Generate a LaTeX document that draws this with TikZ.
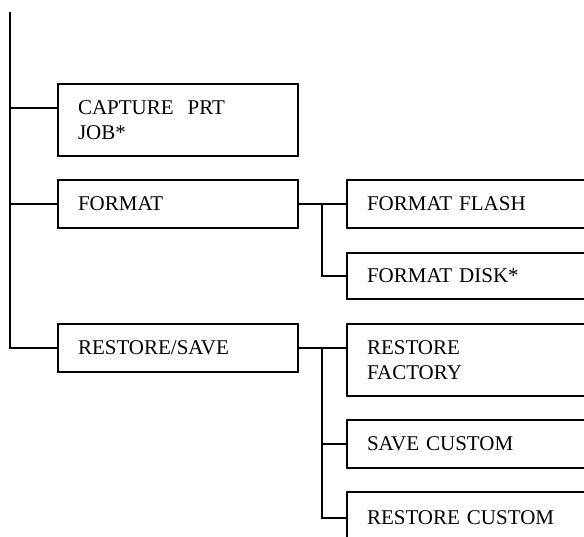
\documentclass[tikz,border=0pt]{standalone}
\usepackage{fontspec}
\setmainfont{Liberation Serif}
\begin{document}
\begin{tikzpicture}[x=1pt,y=-1pt, line width=1.8pt,
  lbox/.style={draw, rectangle, inner xsep=20pt, inner ysep=0pt,
    text width=200pt, align=left, font=\fontsize{21}{25}\selectfont},
  rbox/.style={draw, rectangle, inner xsep=20pt, inner ysep=0pt,
    text width=260pt, align=left, font=\fontsize{21}{25}\selectfont}]
\useasboundingbox (0,0) rectangle (584,537);
\clip (0,0) rectangle (584,537);
% left boxes
\node[lbox, minimum height=72pt] (cap) at (178,120) {CAPTURE\ \ PRT\\JOB*};
\node[lbox, minimum height=48pt] (fmt) at (178,204) {FORMAT};
\node[lbox, minimum height=48pt] (rs) at (178,348) {RESTORE/SAVE};
% right boxes
\node[rbox, minimum height=48pt] (ff) at (497,204) {FORMAT FLASH};
\node[rbox, minimum height=46pt] (fd) at (497,276) {FORMAT DISK*};
\node[rbox, minimum height=72pt] (rf) at (497,360) {RESTORE\\FACTORY};
\node[rbox, minimum height=48pt] (sc) at (497,444) {SAVE CUSTOM};
\node[rbox, minimum height=52pt] (rc) at (497,518) {RESTORE CUSTOM};
% main trunk
\coordinate (top) at (10,12);
\coordinate (c1) at (10,108);
\coordinate (bot) at (10,348);
\draw (top) -- (bot) -- (rs.west);
\draw (c1) -- (cap.west |- c1);
\draw (fmt.west -| top) -- (fmt.west);
% format branch
\coordinate (bf) at (322,204);
\draw (fmt.east) -- (ff.west);
\draw (bf) |- (fd.west);
% restore/save branch
\coordinate (br) at (322,348);
\draw (rs.east) -- (rs.east -| rf.west);
\draw (br) |- (rc.west);
\draw (sc.west -| br) -- (sc.west);
\end{tikzpicture}
\end{document}
